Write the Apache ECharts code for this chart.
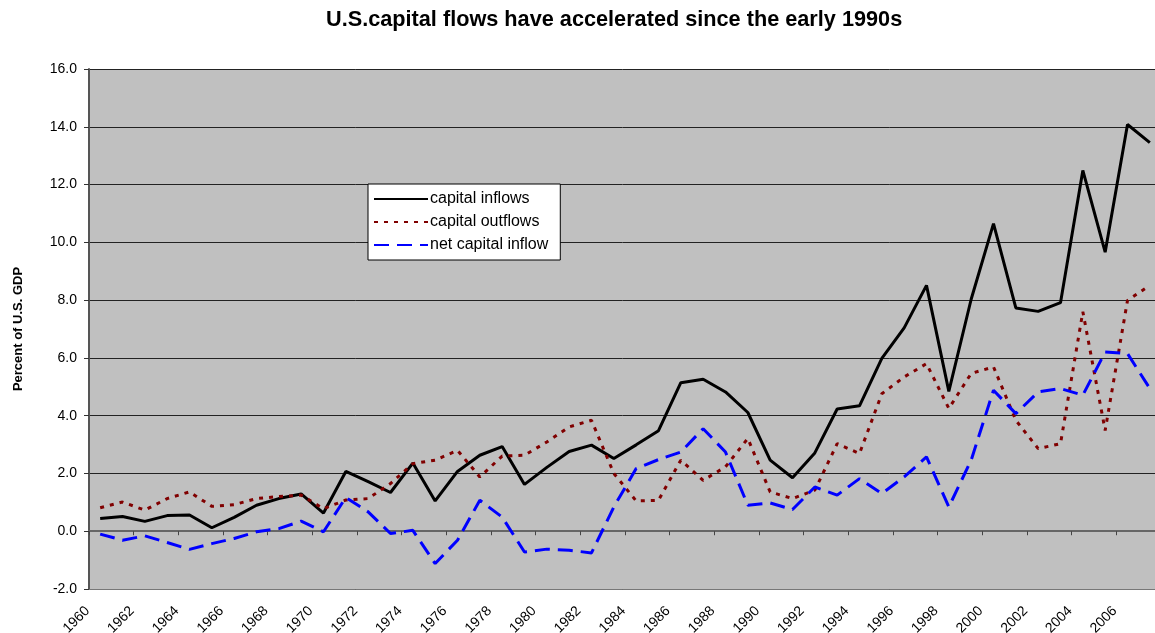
<!DOCTYPE html>
<html>
<head>
<meta charset="utf-8">
<script src="https://cdn.jsdelivr.net/npm/echarts@6/dist/echarts.min.js"></script>
<style>
html,body{margin:0;padding:0;background:#fff;overflow:hidden;}
#chart{width:1155px;height:633px;}
</style>
</head>
<body>
<div id="chart"></div>
<script type="text/javascript">
// years on the x axis
var years = ['1960','1961','1962','1963','1964','1965','1966','1967','1968','1969',
	'1970','1971','1972','1973','1974','1975','1976','1977','1978','1979',
	'1980','1981','1982','1983','1984','1985','1986','1987','1988','1989',
	'1990','1991','1992','1993','1994','1995','1996','1997','1998','1999',
	'2000','2001','2002','2003','2004','2005','2006','2007'];

// percent of U.S. GDP
var inflows = [0.44,0.51,0.34,0.54,0.56,0.12,0.48,0.90,1.13,1.29,0.63,2.07,
	1.72,1.34,2.36,1.05,2.07,2.63,2.93,1.62,2.21,2.76,2.98,2.52,
	2.99,3.48,5.14,5.26,4.82,4.11,2.46,1.85,2.71,4.23,4.34,5.98,
	7.04,8.51,4.84,8.03,10.65,7.73,7.61,7.91,12.49,9.66,14.08,13.45];
var outflows = [0.81,1.01,0.73,1.13,1.36,0.86,0.92,1.13,1.20,1.25,0.78,1.08,
	1.13,1.65,2.34,2.46,2.80,1.88,2.60,2.63,3.09,3.61,3.84,2.00,
	1.05,1.07,2.46,1.76,2.23,3.21,1.36,1.13,1.42,3.03,2.69,4.76,
	5.34,5.80,4.25,5.46,5.69,3.84,2.86,3.03,7.60,3.49,7.99,8.51];
var netInflow = [-0.10,-0.31,-0.16,-0.39,-0.63,-0.43,-0.25,-0.02,0.09,0.35,-0.02,1.17,
	0.67,-0.08,0.03,-1.12,-0.31,1.07,0.49,-0.72,-0.62,-0.66,-0.75,0.84,
	2.17,2.48,2.74,3.55,2.74,0.90,0.98,0.75,1.53,1.25,1.82,1.30,
	1.88,2.57,0.84,2.46,4.88,4.07,4.82,4.94,4.71,6.20,6.15,4.94];

var font = 'Liberation Sans, Arial, sans-serif';
var chart = echarts.init(document.getElementById('chart'));

var option = {
	animation: false,
	title: {
		text: 'U.S.capital flows have accelerated since the early 1990s',
		left: 321,
		top: 4,
		textStyle: {fontFamily: font, fontSize: 21.7, fontWeight: 'bold', color: '#000'}
	},
	legend: {
		orient: 'vertical',
		left: 368,
		top: 184,
		padding: [7, 12, 7, 5],
		itemGap: 7,
		itemWidth: 54,
		itemHeight: 12,
		backgroundColor: '#fff',
		borderColor: '#000',
		borderWidth: 1,
		borderRadius: 0,
		// hide the circle ECharts puts on line icons
		itemStyle: {color: 'rgba(0,0,0,0)', borderWidth: 0},
		textStyle: {fontFamily: font, fontSize: 16, color: '#000', padding: [0, 0, 0, -3]},
		data: ['capital inflows', 'capital outflows', 'net capital inflow']
	},
	grid: {
		left: 89,
		right: -6,
		top: 69,
		bottom: 44,
		containLabel: false,
		outerBoundsMode: 'none',
		show: true,
		backgroundColor: '#C0C0C0',
		borderWidth: 0
	},
	xAxis: [
		{
			// axis line through zero with ticks
			type: 'category',
			data: years,
			boundaryGap: true,
			axisLine: {onZero: true, lineStyle: {color: '#666', width: 2}},
			axisTick: {show: true, length: 4, lineStyle: {color: '#444', width: 1}},
			axisLabel: {show: false},
			splitLine: {show: false}
		},
		{
			// bottom edge, only labels
			type: 'category',
			data: years,
			position: 'bottom',
			boundaryGap: true,
			axisLine: {show: true, onZero: false, lineStyle: {color: '#777', width: 1}},
			axisTick: {show: false},
			axisLabel: {
				interval: 1,
				rotate: 45,
				margin: 7,
				padding: [0, 18, 0, 0],
				fontFamily: font,
				fontSize: 14,
				color: '#000'
			}
		}
	],
	yAxis: {
		type: 'value',
		min: -2,
		max: 16,
		interval: 2,
		name: 'Percent of U.S. GDP',
		nameLocation: 'middle',
		nameGap: 64,
		nameTextStyle: {fontFamily: font, fontSize: 13, fontWeight: 'bold', color: '#000'},
		axisLine: {show: true, lineStyle: {color: '#555', width: 2}},
		axisTick: {show: true, length: 5, lineStyle: {color: '#333'}},
		axisLabel: {
			fontFamily: font,
			fontSize: 14,
			color: '#000',
			margin: 12,
			formatter: function(v){ return v.toFixed(1); }
		},
		splitLine: {show: true, lineStyle: {color: '#222', width: 1}}
	},
	series: [
		{
			name: 'capital inflows',
			type: 'line',
			data: inflows,
			symbol: 'none',
			color: '#000',
			lineStyle: {color: '#000', width: 3}
		},
		{
			name: 'capital outflows',
			type: 'line',
			data: outflows,
			symbol: 'none',
			color: '#800000',
			lineStyle: {color: '#800000', width: 3, type: [4, 6]}
		},
		{
			name: 'net capital inflow',
			type: 'line',
			data: netInflow,
			symbol: 'none',
			color: '#0000FF',
			lineStyle: {color: '#0000FF', width: 3, type: [15, 8]}
		}
	]
};
chart.setOption(option);
</script>
</body>
</html>
